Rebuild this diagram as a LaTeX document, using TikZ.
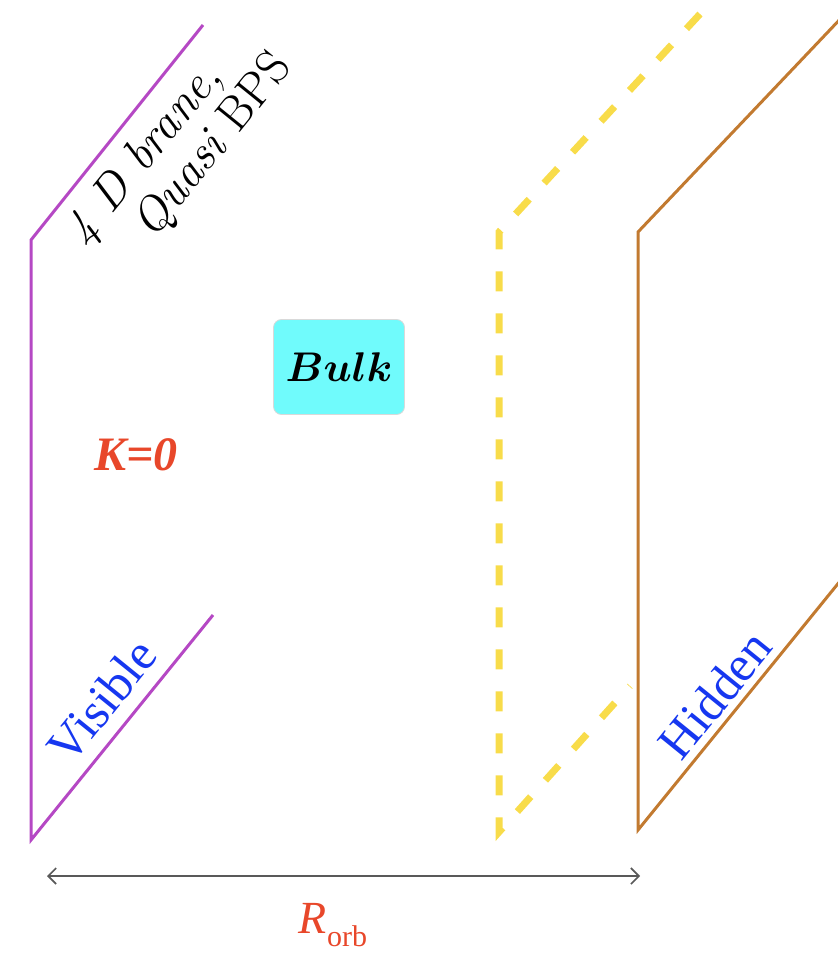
\documentclass[tikz,border=0pt]{standalone}
\usepackage{fontspec}
\usepackage{amsmath}
\usepackage{bm}
\usetikzlibrary{arrows.meta}
\newfontfamily\timesfont{Liberation Serif}
\definecolor{branepurple}{HTML}{B548C4}
\definecolor{bulkyellow}{HTML}{F8DC4A}
\definecolor{hiddenbrown}{HTML}{C27A30}
\definecolor{labelblue}{HTML}{1637F0}
\definecolor{labelred}{HTML}{E8472A}
\definecolor{bulkcyan}{HTML}{70FBFC}

\begin{document}
\begin{tikzpicture}[
    x=0.5pt, y=-0.5pt,
    wall/.style={line width=1.5pt, line join=miter},
    visiblewall/.style={wall, draw=branepurple},
    hiddenwall/.style={wall, draw=hiddenbrown},
    midwall/.style={draw=bulkyellow, line width=3.5pt, dash pattern=on 10pt off 11pt},
    tag/.style={font=\timesfont\fontsize{25}{25}\selectfont, text=labelblue,
      rotate=51, inner sep=0pt},
    redtag/.style={font=\timesfont\itshape\fontsize{24}{24}\selectfont, text=labelred,
      inner sep=0pt},
    bulkbox/.style={fill=bulkcyan, draw=gray!30, rounded corners=4pt,
      minimum width=65.5pt, minimum height=47.5pt, inner sep=0pt},
    arrow/.style={{Straight Barb[length=4pt]}-{Straight Barb[length=4pt]},
      draw=black!65, line width=0.8pt}
  ]
  \useasboundingbox (0,0) rectangle (837,962);

  % the three walls
  \draw[visiblewall] (203,25) -- (31,240) -- (31,840) -- (213,615);
  \draw[midwall] (700,14) -- (499,232) -- (499,832) -- (630,686);
  \draw[hiddenwall] (845,14) -- (638,232) -- (638,830) -- (845,575);

  % labels
  \node[font=\fontsize{24}{24}\selectfont, align=left, rotate=51, inner sep=0pt]
    (branelabel) at (180,150) {\textit{4 D brane,}\\\hspace*{24pt}\textit{Quasi} BPS};
  \node[tag] (visiblelabel) at (102,701) {Visible};
  \node[tag] (hiddenlabel) at (715,695) {Hidden};
  \node[bulkbox] (bulk) at (339,367) {\fontsize{22}{22}\selectfont$\bm{Bulk}$};
  \node[redtag, font=\timesfont\bfseries\itshape\fontsize{24}{24}\selectfont]
    (kzero) at (136,455) {K=0};

  % orbifold length
  \coordinate (orbleft) at (47,876);
  \coordinate (orbright) at (640,876);
  \draw[arrow] (orbleft) -- (orbright);
  \node[redtag, font=\timesfont\fontsize{23}{23}\selectfont] (rorb) at (333,925)
    {\textit{R}\raisebox{-0.3em}{\fontsize{15}{15}\selectfont orb}};
\end{tikzpicture}
\end{document}
